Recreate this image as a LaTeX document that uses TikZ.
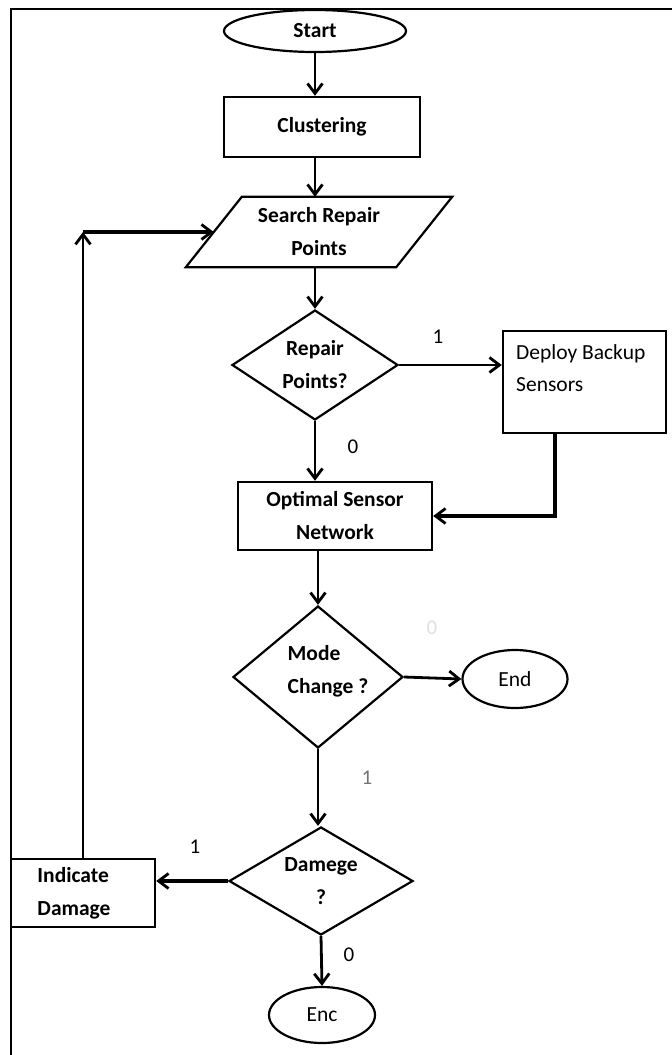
\documentclass[tikz,border=0pt]{standalone}
\usepackage{fontspec}
\setmainfont{Carlito}
\usetikzlibrary{shapes.geometric,arrows.meta,calc}
\begin{document}
\begin{tikzpicture}[x=1pt,y=-1pt,
 every node/.style={font=\fontsize{21.5}{33}\selectfont\bfseries},
 box/.style={draw,line width=2.4pt,rectangle,inner sep=0pt},
 term/.style={draw,line width=2.2pt,ellipse,inner sep=0pt},
 dec/.style={draw,line width=2.2pt,diamond,inner sep=0pt},
 tip/.style={-{Straight Barb[length=10pt,width=15pt,line width=2.8pt]}},
 flow/.style={line width=2.8pt,tip},
 thinflow/.style={line width=1.6pt,tip},
 heavy/.style={line width=4.5pt,tip},
 lbl/.style={font=\fontsize{21}{24}\selectfont}]
\useasboundingbox (0,0) rectangle (672,1055);
\fill[white] (0,0) rectangle (672,1055);
% frame
\draw[line width=2.5pt] (11,1055) -- (11,9) -- (672,9);

% nodes
\node[term, minimum width=182pt, minimum height=42pt] (start) at (315,31) {Start};
\node[box, minimum width=196pt, minimum height=60pt] (clust) at (322,127) {Clustering};
\node[minimum width=210pt, minimum height=70pt, inner sep=0pt, align=center] (search) at (319,232) {Search Repair\\Points};
\draw[line width=2.2pt] ([xshift=28pt]search.north west) -- ([xshift=28pt]search.north east) -- ([xshift=-28pt]search.south east) -- ([xshift=-28pt]search.south west) -- cycle;
\node[dec, aspect=1.5, minimum width=166pt, minimum height=110pt, align=center] (repair) at (315,365) {Repair\\Points?};
\node[box, minimum width=163pt, minimum height=102pt] (deploy) at (584.5,382) {};
\node[anchor=north west, align=left, inner sep=0pt, font=\fontsize{21.5}{32}\selectfont] (deploytext) at (516,344) {Deploy Backup\\Sensors};
\node[box, minimum width=194pt, minimum height=68pt, align=center] (opt) at (335,516) {Optimal Sensor\\Network};
\node[dec, aspect=1.2, minimum width=170pt, minimum height=142pt] (mode) at (318,677) {};
\node[align=left, inner sep=0pt] (modetext) at (328,671) {Mode\\Change ?};
\node[term, font=\fontsize{21.5}{24}\selectfont, minimum width=105pt, minimum height=58pt] (end1) at (515,679) {End};
\node[dec, aspect=1.7, minimum width=184pt, minimum height=108pt, align=center] (dam) at (321,881) {Damege\\?};
\node[box, minimum width=144pt, minimum height=68pt] (ind) at (83,893) {};
\node[align=left, inner sep=0pt] (indtext) at (74,893) {Indicate\\Damage};
\node[term, font=\fontsize{21.5}{24}\selectfont, minimum width=106pt, minimum height=56pt] (enc) at (322,1015) {Enc};

% connectors
\draw[flow] (start.south) -- (start.south |- clust.north);
\draw[flow] (start.south |- clust.south) -- (start.south |- search.north);
\draw[flow] (start.south |- search.south) -- (repair.north);
\draw[flow] (repair.east) -- (repair.east -| deploy.west);
\draw[heavy] ([xshift=-29.5pt]deploy.south) |- (opt.east);
\draw[flow] (repair.south) -- (repair.south |- opt.north);
\draw[flow] (mode.north |- opt.south) -- (mode.north);
\draw[flow] (mode.east) -- (end1.west);
\draw[flow] (mode.south) -- (mode.south |- dam.north);
\draw[heavy] (dam.west) -- (dam.west -| ind.east);
\draw[flow] (dam.south) -- (enc.north);
\coordinate (corner) at (ind.north |- search.west);
\draw[thinflow] (ind.north) -- (corner);
\draw[heavy] (corner) -- (search.west);

% labels
\node[lbl] (l1) at (438,337) {1};
\node[lbl] (l2) at (353,447) {0};
\node[lbl, text=black!12] (l3) at (432,628) {0};
\node[lbl, text=black!55] (l4) at (367,778) {1};
\node[lbl] (l5) at (195,847) {1};
\node[lbl] (l6) at (349,955) {0};
\end{tikzpicture}
\end{document}
